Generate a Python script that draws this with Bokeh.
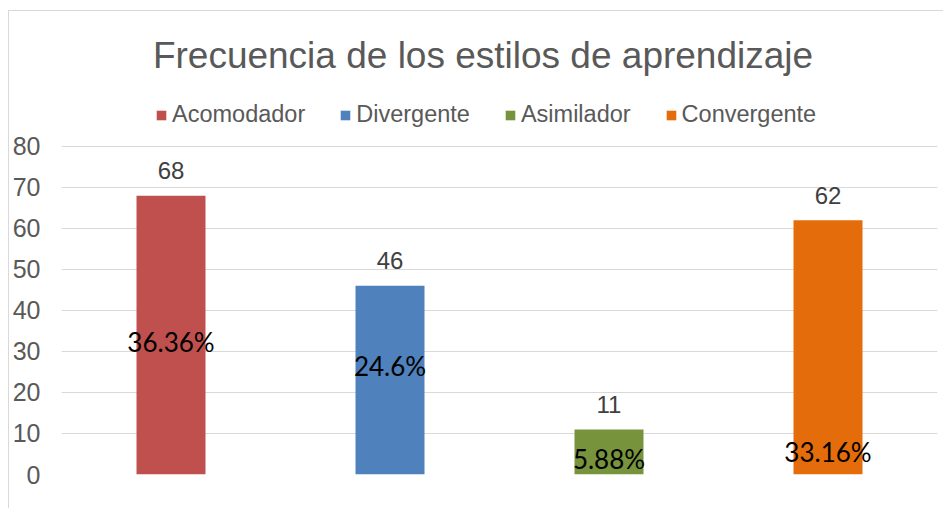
from bokeh.plotting import figure
from bokeh.models import ColumnDataSource, Label, Legend, LegendItem, FixedTicker, Range1d, FactorRange
from bokeh.core.properties import value
from bokeh.embed import file_html
from bokeh.resources import INLINE

categories = ["Acomodador", "Divergente", "Asimilador", "Convergente"]
counts = [68, 46, 11, 62]
percent_labels = ["36.36%", "24.6%", "5.88%", "33.16%"]
percent_label_y = [32.3, 26.4, 3.7, 5.6]
colors = ["#C0504D", "#4F81BD", "#77933C", "#E46C0A"]
y_ticks = [0, 10, 20, 30, 40, 50, 60, 70, 80]
title_text = "Frecuencia de los estilos de aprendizaje"

source = ColumnDataSource(dict(
    cat=categories,
    count=counts,
    count_text=[str(c) for c in counts],
    pct=percent_labels,
    pct_y=percent_label_y,
    color=colors,
))

# y range extends above 80 so that title and legend sit inside the frame
p = figure(
    x_range=FactorRange(*categories, range_padding=0),
    y_range=Range1d(0, 112.9),
    width=935, height=498,
    output_backend="svg", toolbar_location=None,
    min_border_left=52, min_border_right=7, min_border_top=0, min_border_bottom=35,
)
p.styles = {"margin-left": "8px", "margin-top": "10px",
            "border-left": "1px solid #D9D9D9", "border-top": "1px solid #D9D9D9"}
p.outline_line_color = None
p.background_fill_color = "white"
p.border_fill_color = "white"

bars = p.vbar(x="cat", top="count", width=0.315, color="color", source=source, line_color=None)

p.text(x="cat", y="count", text="count_text", source=source,
       text_align="center", text_baseline="alphabetic", y_offset=-25,
       text_font=value("Liberation Sans"), text_font_size="24px", text_color="#404040")
p.text(x="cat", y="pct_y", text="pct", source=source,
       text_align="center", text_baseline="middle",
       text_font=value("Lato"), text_font_size="26px", text_color="#000000")

p.xaxis.visible = False
p.xgrid.visible = False
p.yaxis.ticker = FixedTicker(ticks=y_ticks)
p.yaxis.axis_line_color = None
p.yaxis.major_tick_line_color = None
p.yaxis.minor_tick_line_color = None
p.yaxis.major_tick_out = 0
p.yaxis.major_label_standoff = 21
p.yaxis.major_label_text_font = "Liberation Sans"
p.yaxis.major_label_text_font_size = "25px"
p.yaxis.major_label_text_color = "#595959"
p.ygrid.ticker = FixedTicker(ticks=y_ticks)
p.ygrid.grid_line_color = "#D9D9D9"
p.ygrid.grid_line_width = 1

items = [LegendItem(label=c, renderers=[bars], index=i) for i, c in enumerate(categories)]
legend = Legend(items=items, orientation="horizontal", location=(94, 346),
                glyph_width=12, glyph_height=12, label_standoff=5, spacing=34,
                padding=0, margin=0, border_line_color=None, background_fill_alpha=0,
                label_text_font="Liberation Sans", label_text_font_size="23.5px",
                label_text_color="#595959")
p.add_layout(legend, "center")

p.add_layout(Label(x=421.5, y=419, x_units="screen", y_units="screen", text=title_text,
                   text_align="center", text_baseline="alphabetic",
                   text_font="Liberation Sans", text_font_size="37px", text_color="#595959"))

open("out.html", "w").write(file_html(p, INLINE))
